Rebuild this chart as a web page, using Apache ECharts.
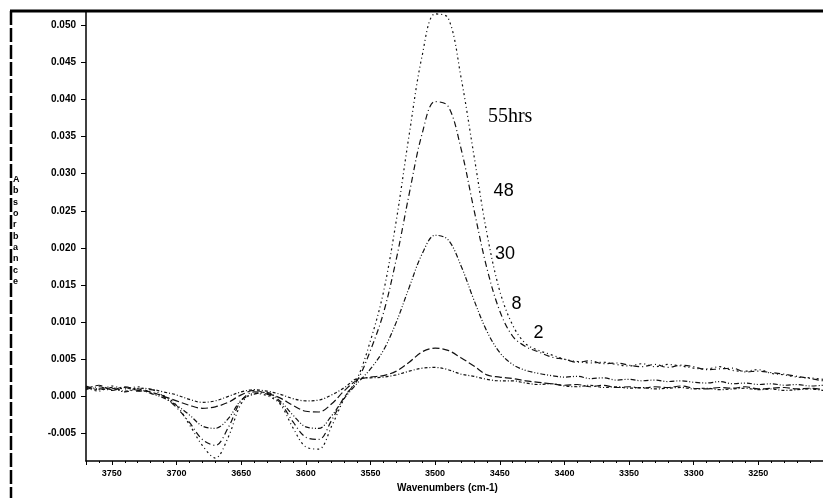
<!DOCTYPE html>
<html><head><meta charset="utf-8">
<script src="https://cdn.jsdelivr.net/npm/echarts@6/dist/echarts.min.js"></script>
<style>html,body{margin:0;padding:0;background:#fff}#c{width:823px;height:498px}</style>
</head><body><div id="c"></div>
<script>
const wavenumbers = [
  3770, 3760, 3750, 3740, 3730, 3720, 3710, 3700, 3690, 3680,
  3670, 3660, 3650, 3640, 3630, 3620, 3610, 3600, 3590, 3580,
  3570, 3560, 3550, 3540, 3530, 3520, 3510, 3500, 3490, 3480,
  3470, 3460, 3450, 3440, 3430, 3420, 3410, 3400, 3390, 3380,
  3370, 3360, 3350, 3340, 3330, 3320, 3310, 3300, 3290, 3280,
  3270, 3260, 3250, 3240, 3230, 3220, 3210, 3200
];
const abs55 = [
  0.0012, 0.0007, 0.0014, 0.0010, 0.0013, 0.0005, 0.0001, -0.0012, -0.0038, -0.0066,
  -0.0083, -0.0055, -0.0010, 0.0004, 0.0001, -0.0010, -0.0042, -0.0068, -0.0071, -0.0040,
  -0.0002, 0.0025, 0.0075, 0.0140, 0.0237, 0.0353, 0.0459, 0.0515, 0.0510, 0.0430,
  0.0325, 0.0220, 0.0142, 0.0096, 0.0071, 0.0062, 0.0056, 0.0050, 0.0047, 0.0045,
  0.0046, 0.0043, 0.0041, 0.0044, 0.0040, 0.0043, 0.0041, 0.0038, 0.0037, 0.0040,
  0.0035, 0.0034, 0.0036, 0.0031, 0.0029, 0.0026, 0.0025, 0.0023
];
const abs48 = [
  0.0009, 0.0013, 0.0008, 0.0012, 0.0007, 0.0009, 0.0000, -0.0015, -0.0035, -0.0058,
  -0.0066, -0.0042, -0.0006, 0.0006, 0.0003, -0.0008, -0.0034, -0.0055, -0.0058, -0.0032,
  0.0000, 0.0022, 0.0062, 0.0112, 0.0185, 0.0273, 0.0354, 0.0397, 0.0391, 0.0334,
  0.0252, 0.0173, 0.0115, 0.0081, 0.0067, 0.0060, 0.0053, 0.0050, 0.0046, 0.0048,
  0.0044, 0.0045, 0.0042, 0.0040, 0.0043, 0.0039, 0.0042, 0.0040, 0.0036, 0.0037,
  0.0038, 0.0033, 0.0034, 0.0032, 0.0030, 0.0027, 0.0024, 0.0021
];
const abs30 = [
  0.0014, 0.0010, 0.0011, 0.0006, 0.0010, 0.0004, -0.0002, -0.0012, -0.0025, -0.0040,
  -0.0043, -0.0030, -0.0005, 0.0003, 0.0005, -0.0006, -0.0025, -0.0041, -0.0043, -0.0026,
  -0.0002, 0.0018, 0.0037, 0.0062, 0.0100, 0.0147, 0.0192, 0.0217, 0.0211, 0.0176,
  0.0130, 0.0088, 0.0059, 0.0043, 0.0035, 0.0031, 0.0028, 0.0026, 0.0027, 0.0024,
  0.0025, 0.0022, 0.0023, 0.0021, 0.0022, 0.0020, 0.0021, 0.0019, 0.0018, 0.0020,
  0.0017, 0.0018, 0.0016, 0.0017, 0.0015, 0.0016, 0.0014, 0.0015
];
const abs8 = [
  0.0010, 0.0015, 0.0009, 0.0013, 0.0008, 0.0006, 0.0000, -0.0006, -0.0012, -0.0016,
  -0.0014, -0.0008, 0.0002, 0.0008, 0.0004, -0.0002, -0.0012, -0.0020, -0.0021, -0.0010,
  0.0008, 0.0022, 0.0026, 0.0028, 0.0034, 0.0046, 0.0060, 0.0065, 0.0062, 0.0052,
  0.0041, 0.0029, 0.0026, 0.0024, 0.0021, 0.0019, 0.0017, 0.0015, 0.0016, 0.0013,
  0.0015, 0.0012, 0.0013, 0.0011, 0.0013, 0.0012, 0.0014, 0.0011, 0.0010, 0.0012,
  0.0011, 0.0013, 0.0010, 0.0011, 0.0012, 0.0010, 0.0011, 0.0009
];
const abs2 = [
  0.0013, 0.0009, 0.0012, 0.0007, 0.0011, 0.0010, 0.0006, 0.0002, -0.0004, -0.0008,
  -0.0006, 0.0000, 0.0006, 0.0009, 0.0007, 0.0003, -0.0003, -0.0006, -0.0005, 0.0002,
  0.0012, 0.0024, 0.0025, 0.0026, 0.0029, 0.0034, 0.0038, 0.0039, 0.0036, 0.0030,
  0.0027, 0.0023, 0.0021, 0.0021, 0.0018, 0.0016, 0.0017, 0.0014, 0.0013, 0.0015,
  0.0012, 0.0013, 0.0011, 0.0012, 0.0010, 0.0011, 0.0012, 0.0010, 0.0011, 0.0009,
  0.0010, 0.0011, 0.0009, 0.0010, 0.0008, 0.0009, 0.0010, 0.0008
];
const seriesNames = ['55hrs', '48', '30', '8', '2'];
const labelWave = [3442, 3447, 3446, 3437, 3420];
const labelAbs = [0.0376, 0.0276, 0.0192, 0.0124, 0.0086];
const yTickValues = [-0.005, 0.000, 0.005, 0.010, 0.015, 0.020, 0.025, 0.030, 0.035, 0.040, 0.045, 0.050];

const allAbs = [abs55, abs48, abs30, abs8, abs2];
const dashes = [[2, 3, 1, 3], [6, 3, 1, 3], [5, 2, 1, 2, 1, 2], [7, 3], [3, 2, 1, 2]];
const labelFonts = ['"Liberation Serif", serif', 'Liberation Sans, Arial, sans-serif', 'Liberation Sans, Arial, sans-serif', 'Liberation Sans, Arial, sans-serif', 'Liberation Sans, Arial, sans-serif'];

const chart = echarts.init(document.getElementById('c'), null, {renderer: 'canvas'});
const series = allAbs.map((arr, i) => ({
  name: seriesNames[i],
  type: 'line',
  data: wavenumbers.map((w, j) => [w, arr[j]]),
  showSymbol: false,
  smooth: 0.35,
  clip: true,
  lineStyle: {color: '#111', width: 1.2, type: dashes[i]},
  z: 5 - i,
  markPoint: {
    symbol: 'circle', symbolSize: 0, silent: true, animation: false,
    data: [{
      coord: [labelWave[i], labelAbs[i]],
      label: {
        show: true, position: 'inside', formatter: seriesNames[i],
        color: '#000', fontSize: i === 0 ? 20 : 18,
        fontFamily: labelFonts[i]
      }
    }]
  }
}));

chart.setOption({
  animation: false,
  backgroundColor: '#fff',
  grid: {left: 86, right: 0, top: 11, bottom: 35},
  xAxis: {
    type: 'value', inverse: true, min: 3200, max: 3770, interval: 50,
    name: 'Wavenumbers (cm-1)', nameLocation: 'middle', nameGap: 22,
    nameTextStyle: {color: '#000', fontSize: 10, fontWeight: 'bold', fontFamily: 'Liberation Sans, Arial, sans-serif', padding: [0, 14, 0, 0]},
    axisLine: {show: true, onZero: false, lineStyle: {color: '#000', width: 1.5}},
    axisTick: {show: true, length: 4, lineStyle: {color: '#000', width: 1}},
    minorTick: {show: true, splitNumber: 5, length: 2, lineStyle: {color: '#000', width: 1}},
    axisLabel: {show: true, color: '#000', fontSize: 9, fontWeight: 'bold', margin: 8,
      fontFamily: 'Liberation Sans, Arial, sans-serif', showMinLabel: false, showMaxLabel: false,
      formatter: v => String(v)},
    splitLine: {show: false}
  },
  yAxis: {
    type: 'value', min: -0.0087, max: 0.0519,
    axisLine: {show: true, lineStyle: {color: '#000', width: 1.5}},
    axisTick: {show: true, length: 5, customValues: yTickValues, lineStyle: {color: '#000', width: 1}},
    axisLabel: {show: true, customValues: yTickValues, color: '#000', fontSize: 10, fontWeight: 'bold', margin: 10,
      fontFamily: 'Liberation Sans, Arial, sans-serif',
      formatter: v => v.toFixed(3)},
    splitLine: {show: false}
  },
  graphic: [
    {type: 'line', shape: {x1: 10, y1: 11, x2: 823, y2: 11}, style: {stroke: '#000', lineWidth: 3}, z: 100},
    {type: 'line', shape: {x1: 11, y1: 11, x2: 11, y2: 498}, style: {stroke: '#000', lineWidth: 2.5, lineDash: [14, 3]}, z: 100},
    {type: 'text', left: 13, top: 174, z: 100,
      style: {text: 'A\nb\ns\no\nr\nb\na\nn\nc\ne', fill: '#000', fontSize: 9, fontWeight: 'bold',
        fontFamily: 'Liberation Sans, Arial, sans-serif', lineHeight: 11.3, align: 'left'}}
  ],
  series: series
});
</script></body></html>
